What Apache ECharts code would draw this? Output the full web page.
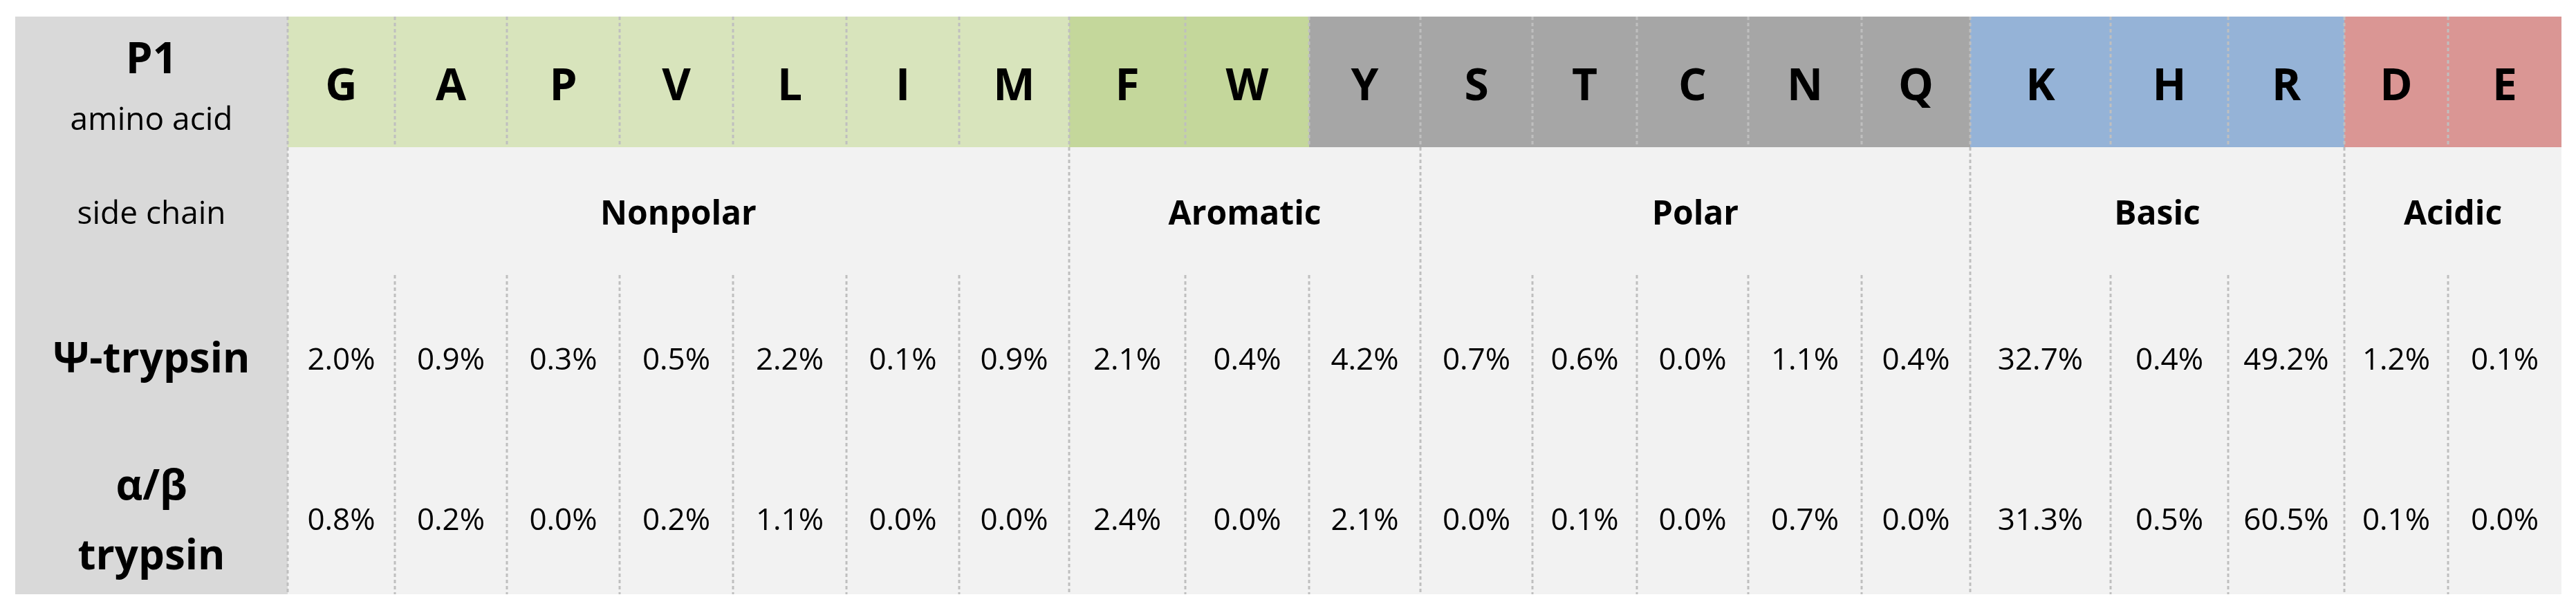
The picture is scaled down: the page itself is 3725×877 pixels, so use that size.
<!DOCTYPE html>
<html><head><meta charset="utf-8">
<script src="https://cdn.jsdelivr.net/npm/echarts@6/dist/echarts.min.js"></script>
<style>html,body{margin:0;padding:0;background:#fff}#c{width:3725px;height:877px}</style>
</head><body><div id="c"></div>
<script>
const aminoAcids = ['G','A','P','V','L','I','M','F','W','Y','S','T','C','N','Q','K','H','R','D','E'];
const colWidths = [155,162,163,164,164,163,159,168,179,161,162,151,161,164,157,203,170,168,150,164];
const labelWidth = 394;
const groupNames = ['Nonpolar','Aromatic','Polar','Basic','Acidic'];
const groupSizes = [7,3,5,3,2];
const headerColorIdx = [0,0,0,0,0,0,0,1,1,2,2,2,2,2,2,3,3,3,4,4];
const headerColors = ['#d8e4bc','#c4d79b','#a6a6a6','#95b3d7','#da9694'];
const psiTrypsin = [2.0,0.9,0.3,0.5,2.2,0.1,0.9,2.1,0.4,4.2,0.7,0.6,0.0,1.1,0.4,32.7,0.4,49.2,1.2,0.1];
const abTrypsin = [0.8,0.2,0.0,0.2,1.1,0.0,0.0,2.4,0.0,2.1,0.0,0.1,0.0,0.7,0.0,31.3,0.5,60.5,0.1,0.0];

const FONT = '"Open Sans", "Noto Sans", sans-serif';
const edges = [0, labelWidth];
colWidths.forEach(w => edges.push(edges[edges.length-1] + w));
const total = edges[edges.length-1];
const groupStart = []; { let s = 0; groupSizes.forEach(n => { groupStart.push(s); s += n; }); }
const groupFirst = new Set(groupStart);

const Y = {top:0, headBot:189, letter:103, side:287, dashStart:374, psi:498, ab:730, bot:836};
const dashStyle = {stroke:'#bfbfbf', lineWidth:3, lineDash:[5,4]};

function txt(x,y,text,size,weight){
  return {type:'text', style:{x, y, text, font:`${weight} ${size}px ${FONT}`, fill:'#000', align:'center', verticalAlign:'middle'}};
}

const chart = echarts.init(document.getElementById('c'));
chart.setOption({
  animation:false,
  grid:{left:22, right:21, top:24, bottom:17},
  xAxis:{type:'value', min:0, max:total, show:false},
  yAxis:{type:'value', min:0, max:Y.bot, inverse:true, show:false},
  series:[
    { // background + label column
      type:'custom', data:[[0]], z:1,
      renderItem:(p, api) => {
        const a = api.coord([0,0]), b = api.coord([labelWidth, Y.bot]), c = api.coord([total, Y.bot]);
        const mid = (a[0]+b[0])/2;
        const yy = v => api.coord([0,v])[1];
        return {type:'group', children:[
          {type:'rect', shape:{x:b[0], y:a[1], width:c[0]-b[0], height:c[1]-a[1]}, style:{fill:'#f2f2f2'}},
          {type:'rect', shape:{x:a[0], y:a[1], width:b[0]-a[0], height:b[1]-a[1]}, style:{fill:'#d9d9d9'}},
          txt(mid, yy(64), 'P1', 62, 'bold'),
          txt(mid, yy(151), 'amino acid', 46, 'normal'),
          txt(mid, yy(Y.side), 'side chain', 46, 'normal'),
          txt(mid, yy(Y.psi), 'Ψ-trypsin', 60, 'bold'),
          txt(mid, yy(682), 'α/β', 60, 'bold'),
          txt(mid, yy(783), 'trypsin', 60, 'bold')
        ]};
      }
    },
    { // amino acid columns
      type:'custom', z:2,
      data: aminoAcids.map((aa,i) => [i, psiTrypsin[i], abTrypsin[i]]),
      renderItem:(p, api) => {
        const i = api.value(0);
        const x0 = edges[i+1], x1 = edges[i+2], xm = (x0+x1)/2;
        const tl = api.coord([x0, Y.top]), br = api.coord([x1, Y.headBot]);
        const px = api.coord([xm,0])[0];
        const yy = v => api.coord([0,v])[1];
        const children = [
          {type:'rect', shape:{x:tl[0], y:tl[1], width:br[0]-tl[0], height:br[1]-tl[1]}, style:{fill:headerColors[headerColorIdx[i]]}},
          txt(px, yy(Y.letter), aminoAcids[i], 64, 'bold'),
          txt(px, yy(Y.psi), api.value(1).toFixed(1)+'%', 44, 'normal'),
          txt(px, yy(Y.ab), api.value(2).toFixed(1)+'%', 44, 'normal')
        ];
        const lx = tl[0];
        if (groupFirst.has(i)) {
          children.push({type:'line', shape:{x1:lx, y1:yy(Y.top), x2:lx, y2:yy(Y.bot)}, style:dashStyle});
        } else {
          children.push({type:'line', shape:{x1:lx, y1:yy(Y.top), x2:lx, y2:yy(Y.headBot)}, style:dashStyle});
          children.push({type:'line', shape:{x1:lx, y1:yy(Y.dashStart), x2:lx, y2:yy(Y.bot)}, style:dashStyle});
        }
        return {type:'group', children};
      }
    },
    { // side chain groups
      type:'custom', z:3,
      data: groupNames.map((g,k) => [k]),
      renderItem:(p, api) => {
        const k = api.value(0);
        const s = groupStart[k], e = s + groupSizes[k];
        const xm = (edges[s+1] + edges[e+1]) / 2;
        const pt = api.coord([xm, Y.side]);
        return txt(pt[0], pt[1], groupNames[k], 48, 'bold');
      }
    }
  ]
});
</script></body></html>
